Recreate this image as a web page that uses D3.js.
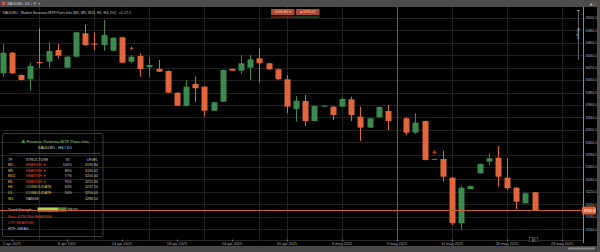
<!DOCTYPE html>
<html><head><meta charset="utf-8">
<script src="https://cdn.jsdelivr.net/npm/d3@7"></script>
<style>
html,body{margin:0;padding:0;background:#000;overflow:hidden}
svg{display:block}
text{font-family:"Liberation Sans",Arial,sans-serif}
</style></head>
<body>
<script>
// ---------- data ----------
const opens  = [3410.9,3444.1,3408.2,3401.3,3429.1,3429.6,3448.5,3420.0,3437.7,3475.4,3458.6,3456.5,3447.3,3468.9,3429.6,3438.8,3420.6,3417.9,3414.7,3379.7,3358.8,3393.7,3389.4,3350.7,3365.2,3417.9,3415.1,3420.0,3435.1,3427.1,3417.4,3401.3,3353.5,3366.3,3334.1,3357.5,3357.2,3357.2,3369.1,3341.1,3323.4,3340.1,3350.2,null,3338.5,3315.3,3334.1,3272.0,3272.9,3242.8,3169.4,3224.2,3249.9,3268.6,3275.0,3242.8,3226.7,3201.6,3219.3];
const highs  = [3458.1,3445.2,3409.0,3428.0,3483.4,3460.9,3458.1,3438.5,3477.8,3488.7,3477.0,3496.8,3469.0,3469.6,3440.4,3443.2,3436.7,3432.4,3415.5,3380.5,3400.2,3405.5,3390.0,3365.0,3417.0,3418.5,3440.4,3440.4,3451.2,3428.0,3419.0,3408.2,3374.4,3376.0,3359.0,3359.5,3358.0,3372.8,3373.3,3357.2,3339.2,3357.5,3359.9,null,3340.1,3346.5,3335.0,3273.0,3286.3,3243.5,3229.5,3230.0,3265.5,3283.1,3293.9,3274.1,3227.5,3218.5,3220.0];
const lows   = [3405.5,3409.8,3399.4,3382.9,3420.0,3420.0,3435.1,3419.5,3437.0,3454.9,3448.5,3447.3,3446.5,3427.2,3427.1,3405.5,3404.5,3413.0,3379.0,3358.0,3357.2,3365.2,3341.1,3350.0,3364.5,3414.5,3409.8,3400.2,3395.8,3416.5,3400.2,3346.5,3333.0,3326.6,3333.5,3357.0,3335.7,3356.5,3334.1,3301.9,3322.7,3339.5,3319.6,null,3311.6,3313.2,3270.5,3271.5,3236.4,3166.7,3159.7,3223.5,3249.2,3263.3,3228.3,3223.0,3192.4,3201.0,3190.0];
const closes = [3444.1,3410.9,3400.2,3422.7,3427.1,3446.9,3439.3,3437.7,3477.0,3456.5,3457.0,3472.6,3468.3,3428.0,3437.7,3417.9,3424.3,3413.5,3379.7,3358.8,3389.4,3386.8,3350.7,3364.3,3416.3,3415.1,3427.1,3433.5,3427.1,3417.4,3401.3,3357.2,3366.8,3334.1,3358.3,3358.9,3343.8,3369.6,3343.8,3323.4,3338.5,3356.7,3334.1,null,3315.3,3331.4,3271.3,3273.0,3244.4,3169.4,3226.7,3229.5,3264.9,3274.1,3244.4,3225.8,3204.2,3217.7,3190.8];
const markerIdx = [14, 47];
const markerVal = [3451.2, 3283.7];
const currentPrice = 3190.8;
const priceTicks = [3500,3480,3460,3440,3420,3400,3380,3360,3340,3320,3300,3280,3260,3240,3220,3200,3180,3160];
const gridIdx = [4,10,16,22,28,31,37,43,49,55,61];
const crosshairIdx = 43;
const dateIdx = [1,7,13,19,25,31,37,43,49,55,61];
const dateLabels = ["2 apr 2025","8 apr 2025","14 apr 2025","18 apr 2025","24 apr 2025","30 apr 2025","6 mag 2025","9 mag 2025","14 mag 2025","20 mag 2025","23 mag 2025"];
const tfNames = ["M1","M5","M15","H1","H4","D1","W1"];
const tfSignals = ["BEARISH ▼","BEARISH ▼","BEARISH ▼","BEARISH ▼","CONSOLIDATE","CONSOLIDATE","RANGE"];
const tfPct = ["100%","80%","77%","95%","63%","50%",""];
const tfLevel = ["3190.80","3195.62","3203.40","3215.90","3237.10","3256.05","3288.50"];
const trendStrength = [59.3];
const btnLabels = ["3190.80 ▾","▴ 3191.07"];

// ---------- setup ----------
const W = 600, H = 252;
const plotL = 0, plotR = 583, plotT = 7, plotB = 246;
const UP = "#3c8a4d", DN = "#e1663b";
const svg = d3.select("body").append("svg").attr("width", W).attr("height", H);
svg.append("rect").attr("width", W).attr("height", H).attr("fill", "#000");

const x = d3.scaleLinear().domain([0, 61]).range([2.7, 562.1]);
const y = d3.scaleLinear().domain([3160, 3500]).range([229.1, 18]);

// grid
const g = svg.append("g");
g.selectAll("line.h").data(priceTicks).join("line")
  .attr("x1", plotL).attr("x2", plotR)
  .attr("y1", d => Math.round(y(d)) + 0.5).attr("y2", d => Math.round(y(d)) + 0.5)
  .attr("stroke", "#222").attr("stroke-width", 1);
g.selectAll("line.v").data(gridIdx).join("line")
  .attr("x1", d => Math.round(x(d)) + 0.5).attr("x2", d => Math.round(x(d)) + 0.5)
  .attr("y1", plotT).attr("y2", 240)
  .attr("stroke", d => d === crosshairIdx ? "#5c5c5c" : "#222").attr("stroke-width", 1);
svg.append("line").attr("x1", 0).attr("x2", plotR).attr("y1", 240.5).attr("y2", 240.5).attr("stroke", "#2a2a2a");

// candles
const candles = d3.range(opens.length).filter(i => opens[i] !== null).map(i => ({
  i, o: opens[i], h: highs[i], l: lows[i], c: closes[i]
}));
const cg = svg.append("g");
cg.selectAll("line.w").data(candles).join("line")
  .attr("x1", d => Math.round(x(d.i)) + 0.5).attr("x2", d => Math.round(x(d.i)) + 0.5)
  .attr("y1", d => y(d.h)).attr("y2", d => y(d.l))
  .attr("stroke", d => d.c >= d.o ? UP : DN).attr("stroke-width", 1);
cg.selectAll("rect.b").data(candles).join("rect")
  .attr("x", d => Math.round(x(d.i)) - 2.5).attr("width", 6)
  .attr("y", d => y(Math.max(d.o, d.c)))
  .attr("height", d => Math.max(1, Math.abs(y(d.o) - y(d.c))))
  .attr("fill", d => d.c >= d.o ? UP : DN);

// markers
const mk = svg.append("g");
markerIdx.forEach((mi, k) => {
  const cx = Math.round(x(mi)) + 0.5, cy = y(markerVal[k]);
  mk.append("line").attr("x1", cx - 2).attr("x2", cx + 2).attr("y1", cy).attr("y2", cy).attr("stroke", "#e8402a").attr("stroke-width", 1);
  mk.append("line").attr("x1", cx).attr("x2", cx).attr("y1", cy - 2).attr("y2", cy + 2).attr("stroke", "#e8402a").attr("stroke-width", 1);
});

// info panel
const p = svg.append("g");
p.append("rect").attr("x", 2.5).attr("y", 133.5).attr("width", 100.5).attr("height", 103)
  .attr("rx", 1.5).attr("fill", "none").attr("stroke", "#4a4a4a").attr("stroke-width", 0.8);
p.append("text").attr("x", 55).attr("y", 142.5).attr("text-anchor", "middle").attr("font-size", 4.3)
  .attr("fill", "#8ccf3a").text("AI Finance Patterns MTF Pairs Info");
p.append("text").attr("x", 55).attr("y", 148.5).attr("text-anchor", "middle").attr("font-size", 4)
  .attr("fill", "#ddd").text("XAUUSD · H4 / D1");
p.append("line").attr("x1", 10).attr("x2", 100).attr("y1", 153.5).attr("y2", 153.5).attr("stroke", "#666").attr("stroke-width", 0.6);
const hdrY = 160.5;
[["TF", 8, "start"], ["STRUCTURE", 26, "start"], ["ST", 70, "end"], ["LEVEL", 98, "end"]].forEach(h => {
  p.append("text").attr("x", h[1]).attr("y", hdrY).attr("text-anchor", h[2]).attr("font-size", 3.6).attr("fill", "#ccc").text(h[0]);
});
const rowY = d3.scaleLinear().domain([0, 6]).range([166, 199.5]);
const sigColor = s => s.startsWith("BEAR") ? "#e8452f" : (s.startsWith("CONS") ? "#e6d44a" : "#cfcfcf");
tfNames.forEach((tf, k) => {
  const yy = rowY(k);
  p.append("text").attr("x", 8).attr("y", yy).attr("font-size", 3.6).attr("fill", k < 4 ? "#e8c9a0" : "#e6d44a").text(tf);
  p.append("text").attr("x", 26).attr("y", yy).attr("font-size", 3.6).attr("fill", sigColor(tfSignals[k])).text(tfSignals[k]);
  p.append("text").attr("x", 72).attr("y", yy).attr("text-anchor", "end").attr("font-size", 3.6).attr("fill", "#ccc").text(tfPct[k]);
  p.append("text").attr("x", 98).attr("y", yy).attr("text-anchor", "end").attr("font-size", 3.6).attr("fill", "#ccc").text(tfLevel[k]);
});

// current price line (drawn over panel border)
const cpY = Math.round(y(currentPrice)) + 0.5;
svg.append("line").attr("x1", 0).attr("x2", plotR).attr("y1", cpY).attr("y2", cpY).attr("stroke", "#c8633c").attr("stroke-width", 1);

// trend strength
const sx = d3.scaleLinear().domain([0, 100]).range([37.7, 72.5]);
p.append("text").attr("x", 8).attr("y", 211).attr("font-size", 3.6).attr("fill", "#ccc").text("Trend Strength");
p.append("rect").attr("x", sx(0)).attr("y", 207.5).attr("width", sx(100) - sx(0)).attr("height", 4).attr("fill", "#1a2a10");
p.append("rect").attr("x", sx(0)).attr("y", 207.5).attr("width", sx(trendStrength[0]) - sx(0)).attr("height", 4).attr("fill", "#a6d85a");
p.append("rect").attr("x", sx(trendStrength[0])).attr("y", 207.5).attr("width", 8).attr("height", 4).attr("fill", "#5d8a2e");
p.append("text").attr("x", 68).attr("y", 211).attr("font-size", 3.6).attr("fill", "#ccc").text(trendStrength[0] + "%");
p.append("text").attr("x", 8).attr("y", 218).attr("font-size", 3.8).attr("fill", "#e8402a").text("Bias: STRONG BEARISH");
p.append("text").attr("x", 8).attr("y", 224).attr("font-size", 3.8).attr("fill", "#e8402a").text("LTF: BEARISH");
p.append("text").attr("x", 8).attr("y", 230).attr("font-size", 3.8).attr("fill", "#a9b6ff").text("HTF: WEAK");

// right axis
svg.append("rect").attr("x", plotR).attr("y", plotT).attr("width", W - plotR).attr("height", plotB - plotT).attr("fill", "#000");
svg.append("line").attr("x1", plotR + 0.5).attr("x2", plotR + 0.5).attr("y1", plotT).attr("y2", 243).attr("stroke", "#8a8a8a");
svg.append("g").selectAll("text").data(priceTicks).join("text")
  .attr("x", 585.5).attr("y", d => y(d) + 1.4).attr("font-size", 3.9).attr("fill", "#b5b5b5")
  .text(d => d.toFixed(1));
svg.append("rect").attr("x", 582).attr("y", cpY - 4).attr("width", 14).attr("height", 8).attr("rx", 1).attr("fill", "#d9653a");
svg.append("text").attr("x", 583.5).attr("y", cpY + 1.4).attr("font-size", 3.9).attr("fill", "#fff").text(currentPrice.toFixed(1));

// x axis labels
svg.append("g").selectAll("text").data(dateIdx).join("text")
  .attr("x", d => x(d)).attr("y", 244.8).attr("text-anchor", "middle").attr("font-size", 3.8).attr("fill", "#aaa")
  .text((d, k) => dateLabels[k]);
svg.append("g").selectAll("line").data(dateIdx).join("line")
  .attr("x1", d => Math.round(x(d)) + 0.5).attr("x2", d => Math.round(x(d)) + 0.5)
  .attr("y1", 239.5).attr("y2", 241.5).attr("stroke", "#aaa").attr("stroke-width", 0.6);
svg.append("rect").attr("x", 529.5).attr("y", 237.5).attr("width", 8).attr("height", 4).attr("fill", "#000").attr("stroke", "#777").attr("stroke-width", 0.5);
svg.append("text").attr("x", 533.5).attr("y", 240.7).attr("text-anchor", "middle").attr("font-size", 3.2).attr("fill", "#ddd").text("1h");

// top right vertical element
svg.append("line").attr("x1", 578.5).attr("x2", 578.5).attr("y1", 10).attr("y2", 60).attr("stroke", "#777").attr("stroke-width", 0.8);
svg.append("line").attr("x1", 577).attr("x2", 579.5).attr("y1", 10.5).attr("y2", 10.5).attr("stroke", "#bbb").attr("stroke-width", 0.8);
svg.append("text").attr("transform", "translate(577.3,28) rotate(90)").attr("font-size", 3.2).attr("fill", "#ccc").text("Ranges");

// top info line
svg.append("text").attr("x", 2.5).attr("y", 13.5).attr("font-size", 3.6).attr("fill", "#c8c8c8")
  .text("XAUUSD · Market Structure MTF Pairs Info (M1, M5, M15, H1, H4, D1) · v1.17.1");

// trade buttons
const bx = [271, 296];
bx.forEach((b, k) => {
  svg.append("rect").attr("x", b).attr("y", 9).attr("width", 23.5).attr("height", 6).attr("rx", 0.8).attr("fill", "#b04a2d");
  svg.append("text").attr("x", b + 11.75).attr("y", 13.3).attr("text-anchor", "middle").attr("font-size", 3.6).attr("fill", "#f3d6c8").text(btnLabels[k]);
});
svg.append("line").attr("x1", 271).attr("x2", 293).attr("y1", 17).attr("y2", 17).attr("stroke", "#c0442c").attr("stroke-width", 0.8);
svg.append("line").attr("x1", 293).attr("x2", 319.5).attr("y1", 17).attr("y2", 17).attr("stroke", "#3a8a4c").attr("stroke-width", 0.8);

// frame bars
svg.append("rect").attr("x", 0).attr("y", 0).attr("width", W).attr("height", 7).attr("fill", "#4c4c4c");
svg.append("rect").attr("x", 0).attr("y", plotB).attr("width", W).attr("height", H - plotB).attr("fill", "#484848");
svg.append("rect").attr("x", 597).attr("y", 0).attr("width", 3).attr("height", H).attr("fill", "#4c4c4c");
svg.append("rect").attr("x", 568).attr("y", 247.5).attr("width", 27).attr("height", 2).attr("rx", 1).attr("fill", "#8a8a8a");
svg.append("rect").attr("x", 2).attr("y", 1.5).attr("width", 3.5).attr("height", 3.5).attr("fill", "#d0504a");
svg.append("text").attr("x", 7).attr("y", 5).attr("font-size", 3.8).attr("fill", "#ddd").text("XAUUSD, D1");
svg.append("text").attr("x", 31).attr("y", 5).attr("font-size", 3.8).attr("fill", "#aaa").text("|  ⚙ ▾");
svg.append("text").attr("x", 589).attr("y", 5).attr("font-size", 3.8).attr("fill", "#aaa").text("◢ ⤢");
</script>
</body></html>
